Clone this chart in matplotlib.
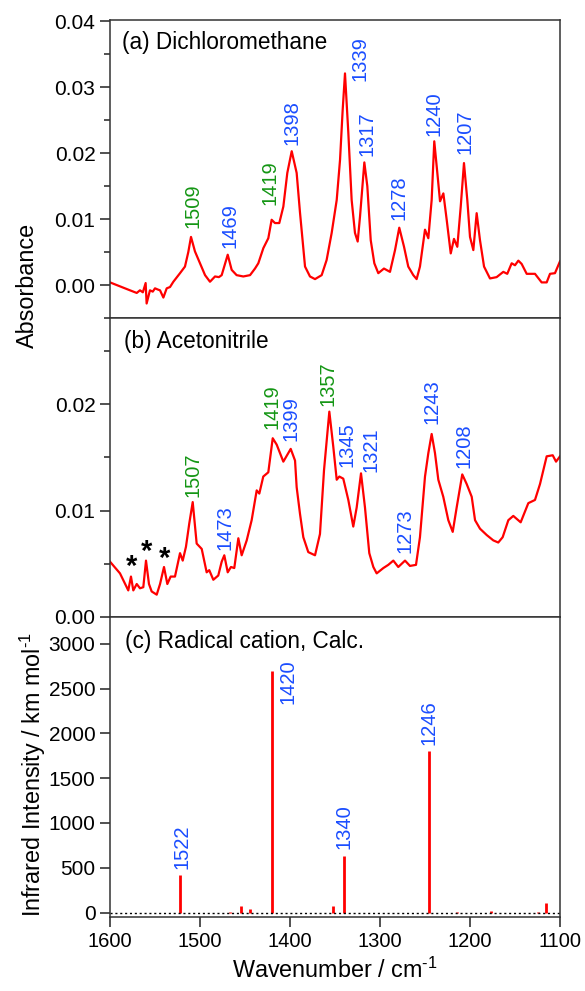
import numpy as np
import matplotlib
matplotlib.use("Agg")
import matplotlib.pyplot as plt
from matplotlib.ticker import MultipleLocator

plt.rcParams["font.family"] = ["Liberation Sans", "DejaVu Sans"]
plt.rcParams["mathtext.fontset"] = "custom"
plt.rcParams["mathtext.rm"] = "Liberation Sans"
plt.rcParams["mathtext.default"] = "regular"

RED = "#ff0000"
BLUE = "#1a4dff"
GREEN = "#149614"

# (a) dichloromethane spectrum
wn_a = [1600, 1588.9, 1577.8, 1570.3, 1566.7, 1563.5, 1560.4, 1559.3, 1555.6, 1552.5,
        1550, 1546.5, 1544.4, 1540.7, 1537, 1533.3, 1529.6, 1522.2, 1516.7, 1513, 1510,
        1505.6, 1500, 1494.4, 1488.9, 1483.3, 1479, 1475.9, 1469.2, 1464.8, 1459.3, 1451.9,
        1444.4, 1438.9, 1435.2, 1429.6, 1424.1, 1420.4, 1416.7, 1411.9, 1407.4, 1403, 1398.1,
        1392.6, 1388.9, 1383.3, 1377.8, 1372.2, 1364.8, 1359.3, 1353.7, 1348.1, 1344.4,
        1341.5, 1338.9, 1335.2, 1331.5, 1327.8, 1324.8, 1322.2, 1317.4, 1314.1, 1310.3,
        1306.3, 1301.9, 1295.6, 1288.9, 1283.3, 1278.6, 1273.3, 1268.6, 1263, 1259.3,
        1255.6, 1250, 1246.3, 1242.6, 1239.7, 1236.3, 1233.3, 1229.6, 1225.9, 1221.4,
        1217.8, 1214.1, 1210.3, 1206.7, 1203, 1200, 1196.3, 1192.6, 1188.9, 1184.4, 1177.8,
        1170.4, 1163, 1158.6, 1153.7, 1150, 1146.3, 1142.6, 1137, 1127.8, 1120.4, 1114.8,
        1111.1, 1105.6, 1100]
abs_a = [0.0004, -0.0002, -0.0008, -0.0012, -0.0008, -0.0011, 0.0003, -0.0028, -0.0008,
         -0.0010, -0.0005, -0.0007, -0.0008, -0.0019, -0.0005, -0.0003, 0.0005, 0.0018,
         0.0028, 0.0050, 0.0073, 0.0051, 0.0033, 0.0015, 0.0005, 0.0013, 0.0012, 0.0015,
         0.0046, 0.0023, 0.0015, 0.0013, 0.0015, 0.0025, 0.0033, 0.0056, 0.0071, 0.0099,
         0.0094, 0.0094, 0.0119, 0.0170, 0.0203, 0.0170, 0.0110, 0.0028, 0.0013, 0.0009,
         0.0015, 0.0038, 0.0079, 0.0129, 0.0190, 0.0265, 0.0321, 0.0231, 0.0129, 0.0079,
         0.0066, 0.0104, 0.0186, 0.0150, 0.0068, 0.0033, 0.0018, 0.0025, 0.0020, 0.0053,
         0.0087, 0.0058, 0.0028, 0.0015, 0.0009, 0.0028, 0.0084, 0.0071, 0.0129, 0.0218,
         0.0170, 0.0127, 0.0139, 0.0099, 0.0048, 0.0070, 0.0058, 0.0119, 0.0185, 0.0129,
         0.0073, 0.0053, 0.0109, 0.0068, 0.0028, 0.0010, 0.0012, 0.0020, 0.0017, 0.0033,
         0.0030, 0.0037, 0.0032, 0.0017, 0.0017, 0.0004, 0.0004, 0.0017, 0.0018, 0.0036]

# (b) acetonitrile spectrum
wn_b = [1600, 1588.9, 1579.7, 1576.7, 1574.1, 1570.3, 1566.7, 1563, 1560, 1556.7,
        1553.7, 1548.1, 1544.4, 1540, 1536.3, 1532.6, 1527.8, 1522.2, 1519.2, 1515.6,
        1511.9, 1508.1, 1503.7, 1498.1, 1492.6, 1489.7, 1485.2, 1479.7, 1475.9, 1473,
        1469.2, 1465.6, 1461.9, 1457.4, 1453.7, 1448.1, 1442.6, 1437, 1434.1, 1429.7,
        1424.1, 1419.2, 1414.8, 1407.4, 1399.2, 1394.4, 1392.6, 1388.9, 1385.2, 1379.7,
        1372.2, 1366.7, 1362.2, 1356.3, 1351.9, 1348.1, 1345.2, 1340.8, 1335.2, 1329.7,
        1325.9, 1321.1, 1316.7, 1311.9, 1307.4, 1303.7, 1296.3, 1290.8, 1285.2, 1279.7,
        1272.2, 1266.7, 1260, 1255.6, 1250, 1246.3, 1242.6, 1238.9, 1235.2, 1229.7,
        1224.1, 1219.2, 1214.8, 1208.6, 1203.7, 1198.1, 1194.4, 1188.9, 1181.4, 1174.1,
        1168.6, 1163.7, 1157.4, 1151.9, 1143.7, 1135.2, 1127.8, 1122.2, 1114.8, 1108.1,
        1104.4, 1100]
abs_b = [0.0052, 0.0041, 0.0025, 0.0038, 0.0025, 0.0031, 0.0027, 0.0028, 0.0053, 0.0031,
         0.0024, 0.0021, 0.0031, 0.0047, 0.0031, 0.0038, 0.0038, 0.0060, 0.0053, 0.0066,
         0.0088, 0.0108, 0.0069, 0.0064, 0.0042, 0.0044, 0.0035, 0.0039, 0.0052, 0.0058,
         0.0042, 0.0047, 0.0046, 0.0074, 0.0058, 0.0072, 0.0091, 0.0119, 0.0116, 0.0132,
         0.0136, 0.0168, 0.0162, 0.0146, 0.0158, 0.0147, 0.0122, 0.0097, 0.0075, 0.0061,
         0.0058, 0.0078, 0.0138, 0.0193, 0.0160, 0.0129, 0.0132, 0.0130, 0.0110, 0.0085,
         0.0103, 0.0135, 0.0103, 0.0060, 0.0047, 0.0041, 0.0046, 0.0049, 0.0053, 0.0047,
         0.0053, 0.0048, 0.0049, 0.0075, 0.0132, 0.0154, 0.0172, 0.0154, 0.0129, 0.0113,
         0.0091, 0.0080, 0.0103, 0.0134, 0.0125, 0.0113, 0.0091, 0.0083, 0.0077, 0.0072,
         0.0070, 0.0075, 0.0091, 0.0095, 0.0089, 0.0107, 0.0110, 0.0125, 0.0151, 0.0152,
         0.0146, 0.0151]

# (c) calculated stick spectrum
wn_c = [1522, 1467, 1454, 1444, 1420, 1352, 1340, 1246, 1215, 1177, 1124, 1116]
int_c = [415, 10, 70, 35, 2700, 70, 630, 1800, 10, 20, 5, 105]

# peak labels: (text, colour, x, y of text bottom)
labels_a = [("1509", GREEN, 1507.4, 0.0086), ("1469", BLUE, 1466.7, 0.0056),
            ("1419", GREEN, 1422.2, 0.0122), ("1398", BLUE, 1398.1, 0.0213),
            ("1339", BLUE, 1322.2, 0.0309), ("1317", BLUE, 1314.1, 0.0195),
            ("1278", BLUE, 1278.5, 0.0099), ("1240", BLUE, 1239.6, 0.0226),
            ("1207", BLUE, 1205.6, 0.0198)]
labels_b = [("1507", GREEN, 1507.4, 0.0113), ("1473", BLUE, 1472.2, 0.0063),
            ("1419", GREEN, 1420.4, 0.0177), ("1399", BLUE, 1399.2, 0.0165),
            ("1357", GREEN, 1357.4, 0.0198), ("1345", BLUE, 1337.0, 0.0141),
            ("1321", BLUE, 1310.3, 0.0136), ("1273", BLUE, 1272.2, 0.0060),
            ("1243", BLUE, 1242.6, 0.0181), ("1208", BLUE, 1206.3, 0.0140)]
labels_c = [("1522", BLUE, 1520.4, 491), ("1420", BLUE, 1401.9, 2324),
            ("1340", BLUE, 1339.6, 714), ("1246", BLUE, 1245.6, 1867)]
stars_b = [(1575.9, 0.0047), (1559.3, 0.0061), (1538.9, 0.0055)]

fig = plt.figure(figsize=(5.85, 9.91), dpi=100)
left, width = 110 / 585, 450 / 585
ax_a = fig.add_axes([left, 1 - 318 / 991, width, 298 / 991])
ax_b = fig.add_axes([left, 1 - 617 / 991, width, 299 / 991])
ax_c = fig.add_axes([left, 1 - 917 / 991, width, 300 / 991])

ax_a.plot(wn_a, abs_a, color=RED, lw=1.6)
ax_b.plot(wn_b, abs_b, color=RED, lw=1.6)
ax_c.vlines(wn_c, 0, int_c, color=RED, lw=2)
ax_c.axhline(0, color="black", lw=1, ls=(0, (1.5, 2)))

ax_a.set_ylim(-0.005, 0.0402)
ax_b.set_ylim(0, 0.0281)
ax_c.set_ylim(-50, 3300)

ax_a.yaxis.set_major_locator(MultipleLocator(0.01))
ax_a.yaxis.set_minor_locator(MultipleLocator(0.005))
ax_b.yaxis.set_major_locator(MultipleLocator(0.01))
ax_b.yaxis.set_minor_locator(MultipleLocator(0.005))
ax_c.yaxis.set_major_locator(MultipleLocator(500))
ax_a.yaxis.set_major_formatter(lambda v, p: f"{v:.2f}")
ax_b.yaxis.set_major_formatter(lambda v, p: f"{v:.2f}")

for ax in (ax_a, ax_b, ax_c):
    ax.set_xlim(1600, 1100)
    ax.xaxis.set_major_locator(MultipleLocator(100))
    ax.tick_params(axis="both", which="major", direction="out", length=7, width=1.1,
                   labelsize=15, colors="#222222", labelcolor="black")
    ax.tick_params(axis="y", which="minor", direction="out", length=4, width=1.1,
                   colors="#222222")
    ax.tick_params(top=False, right=False)
    for sp in ax.spines.values():
        sp.set_linewidth(1.1)
        sp.set_color("#333333")

for ax in (ax_a, ax_b):
    ax.tick_params(axis="x", bottom=False, labelbottom=False)
ax_c.tick_params(axis="x", labelsize=14.5)

for ax, labs in ((ax_a, labels_a), (ax_b, labels_b), (ax_c, labels_c)):
    for txt, col, x, y in labs:
        ax.text(x, y, txt, color=col, rotation=90, ha="center", va="bottom", fontsize=14.5)

for x, y in stars_b:
    ax_b.text(x, y, "*", ha="center", va="center", fontsize=21, fontweight="bold")

ax_a.text(0.026, 0.923, "(a) Dichloromethane", transform=ax_a.transAxes,
          fontsize=16.3, va="center")
ax_b.text(0.030, 0.921, "(b) Acetonitrile", transform=ax_b.transAxes,
          fontsize=16.3, va="center")
ax_c.text(0.033, 0.918, "(c) Radical cation, Calc.", transform=ax_c.transAxes,
          fontsize=16.3, va="center")

fig.text(27 / 585, 1 - 285 / 991, "Absorbance", rotation=90, ha="center", va="center",
         fontsize=16.8)
fig.text(33 / 585, 1 - 775 / 991, r"Infrared Intensity / km mol$^{\text{-}1}$",
         rotation=90, ha="center", va="center", fontsize=16.8)
fig.text(335 / 585, 1 - 970 / 991, r"Wavenumber / cm$^{\text{-}1}$", ha="center",
         va="center", fontsize=16.8)

fig.savefig("out.png", dpi=100)
